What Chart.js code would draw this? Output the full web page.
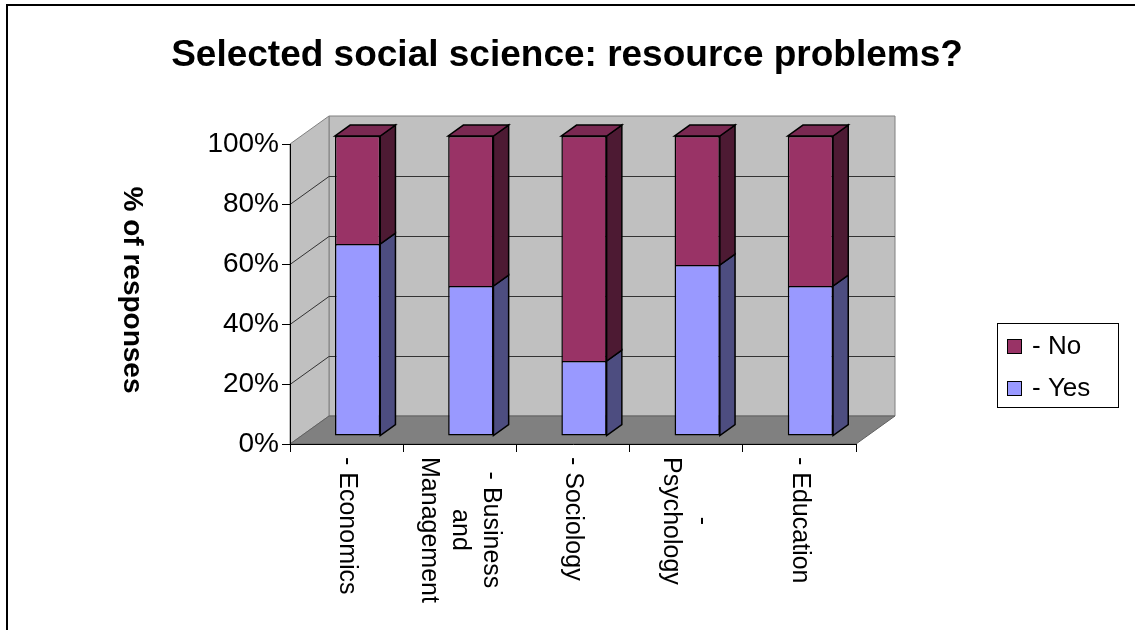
<!DOCTYPE html>
<html lang="en">
<head>
  <meta charset="UTF-8">
  <title>Selected social science: resource problems?</title>
  <script src="https://cdn.jsdelivr.net/npm/chart.js"></script>
  <style>
    body { margin: 0; background: #fff; }
    canvas { display: block; }
  </style>
</head>
<body>
  <canvas id="chart" width="1135" height="630"></canvas>

  <script>
    // categories, one entry per line of the wrapped label
    const categories = [
      ['- Economics'],
      ['- Business', 'and', 'Management'],
      ['- Sociology'],
      ['-', 'Psychology'],
      ['- Education']
    ];
    const yesValues = [64, 50, 25, 57, 50];
    const noValues = [36, 50, 75, 43, 50];
    const tickLabels = ['0%', '20%', '40%', '60%', '80%', '100%'];

    const FONT = "'Liberation Sans', Arial, sans-serif";
    const depth = { x: 39, y: -28 };   // floor / wall depth
    const shift = 0.29;                // bars start this far into the depth
    const thick = 0.39;                // bar depth as part of the total

    const colors = {
      yes: '#9999ff', yesSide: '#4d4d80',
      no: '#993366', noSide: '#4d1a33', noTop: '#7a2952'
    };

    function poly(ctx, pts, fill, stroke, lw) {
      ctx.beginPath();
      ctx.moveTo(pts[0][0], pts[0][1]);
      for (let i = 1; i < pts.length; i++) ctx.lineTo(pts[i][0], pts[i][1]);
      ctx.closePath();
      if (fill) { ctx.fillStyle = fill; ctx.fill(); }
      if (stroke) { ctx.strokeStyle = stroke; ctx.lineWidth = lw || 1; ctx.stroke(); }
    }

    const threeD = {
      id: 'threeD',
      beforeDraw(chart) {
        const { ctx, chartArea: a, scales: { y } } = chart;
        const L = a.left, R = a.right;
        const B = y.getPixelForValue(0), T = y.getPixelForValue(100);
        const dx = depth.x, dy = depth.y;
        ctx.save();
        // back wall
        poly(ctx, [[L + dx, T + dy], [R + dx, T + dy], [R + dx, B + dy], [L + dx, B + dy]], '#c0c0c0', '#808080');
        // side wall
        poly(ctx, [[L, B], [L, T], [L + dx, T + dy], [L + dx, B + dy]], '#c0c0c0', '#808080');
        // floor
        poly(ctx, [[L, B], [R, B], [R + dx, B + dy], [L + dx, B + dy]], '#808080', '#606060');
        // gridlines
        ctx.strokeStyle = '#333';
        ctx.lineWidth = 1;
        y.ticks.forEach(t => {
          if (t.value === 0 || t.value === 100) return;
          const p = Math.round(y.getPixelForValue(t.value)) + 0.5;
          ctx.beginPath();
          ctx.moveTo(L, p);
          ctx.lineTo(L + dx, p + dy);
          ctx.lineTo(R + dx, p + dy);
          ctx.stroke();
        });
        ctx.restore();
      },
      beforeDatasetsDraw(chart) {
        const ctx = chart.ctx;
        ctx.save();
        ctx.translate(Math.round(depth.x * shift), Math.round(depth.y * shift));
      },
      afterDatasetsDraw(chart) {
        const ctx = chart.ctx;
        const bx = depth.x * thick, by = depth.y * thick;
        const n = chart.data.datasets.length;
        chart.data.datasets.forEach((ds, di) => {
          chart.getDatasetMeta(di).data.forEach(el => {
            const { x, y, base, width } = el.getProps(['x', 'y', 'base', 'width'], true);
            const xl = x - width / 2, xr = x + width / 2;
            poly(ctx, [[xr, base], [xr, y], [xr + bx, y + by], [xr + bx, base + by]], ds.sideColor, '#000', 1.5);
            if (di === n - 1) {
              poly(ctx, [[xl, y], [xr, y], [xr + bx, y + by], [xl + bx, y + by]], ds.topColor, '#000', 1.5);
            }
          });
        });
        ctx.restore();
      },
      afterDraw(chart) {
        const { ctx, scales: { x } } = chart;
        ctx.save();
        ctx.fillStyle = '#000';
        ctx.textAlign = 'center';
        ctx.textBaseline = 'middle';

        // title
        ctx.font = `bold 37px ${FONT}`;
        ctx.fillText('Selected social science: resource problems?', 567, 56);

        // category labels, turned to read downwards
        ctx.font = `25px ${FONT}`;
        chart.data.labels.forEach((lines, i) => {
          const cx = x.getPixelForTick(i);
          const w = Math.max(...lines.map(l => ctx.measureText(l).width));
          ctx.save();
          ctx.translate(cx, x.top + 13 + w / 2);
          ctx.rotate(Math.PI / 2);
          lines.forEach((l, j) => ctx.fillText(l, 0, (j - (lines.length - 1) / 2) * 31));
          ctx.restore();
        });

        // y axis title
        ctx.font = `bold 28px ${FONT}`;
        ctx.save();
        ctx.translate(132, 290);
        ctx.rotate(Math.PI / 2);
        ctx.fillText('% of responses', 0, 0);
        ctx.restore();

        // legend
        ctx.strokeStyle = '#000';
        ctx.lineWidth = 1;
        ctx.strokeRect(997.5, 323.5, 121, 84);
        ctx.font = `26px ${FONT}`;
        ctx.textAlign = 'left';
        const items = chart.data.datasets.slice().reverse();
        items.forEach((ds, i) => {
          const yy = 347 + i * 42;
          ctx.fillStyle = ds.backgroundColor;
          ctx.fillRect(1007, yy - 8, 15, 15);
          ctx.strokeRect(1007.5, yy - 7.5, 14, 14);
          ctx.fillStyle = '#000';
          ctx.fillText(ds.label, 1032, yy);
        });

        // outer frame (top and left edges show)
        ctx.lineWidth = 2;
        ctx.beginPath();
        ctx.moveTo(7, 630);
        ctx.lineTo(7, 5);
        ctx.lineTo(1135, 5);
        ctx.stroke();
        ctx.restore();
      }
    };

    new Chart(document.getElementById('chart'), {
      type: 'bar',
      data: {
        labels: categories,
        datasets: [
          {
            label: '- Yes', data: yesValues,
            backgroundColor: colors.yes, sideColor: colors.yesSide,
            borderColor: '#000', borderWidth: 1.5, borderSkipped: false
          },
          {
            label: '- No', data: noValues,
            backgroundColor: colors.no, sideColor: colors.noSide, topColor: colors.noTop,
            borderColor: '#000', borderWidth: 1.5
          }
        ]
      },
      options: {
        responsive: false,
        animation: false,
        layout: { padding: { left: 0, right: 279, top: 144, bottom: 0 } },
        datasets: { bar: { categoryPercentage: 1, barPercentage: 0.4, clip: false } },
        plugins: {
          legend: { display: false },
          tooltip: { enabled: false },
          title: { display: false }
        },
        scales: {
          x: {
            stacked: true,
            afterFit(s) { s.height = 186; },
            ticks: { display: false },
            grid: { offset: true, drawOnChartArea: false, drawTicks: true, tickLength: 8, color: '#000' },
            border: { display: true, color: '#000', width: 1 }
          },
          y: {
            stacked: true,
            min: 0,
            max: 100,
            afterFit(s) { s.width = 290; },
            ticks: {
              stepSize: 20,
              padding: 3,
              color: '#000',
              font: { family: FONT, size: 28 },
              callback: v => tickLabels[v / 20]
            },
            grid: { drawOnChartArea: false, drawTicks: true, tickLength: 8, color: '#000' },
            border: { display: true, color: '#000', width: 1 }
          }
        }
      },
      plugins: [threeD]
    });
  </script>
</body>
</html>
